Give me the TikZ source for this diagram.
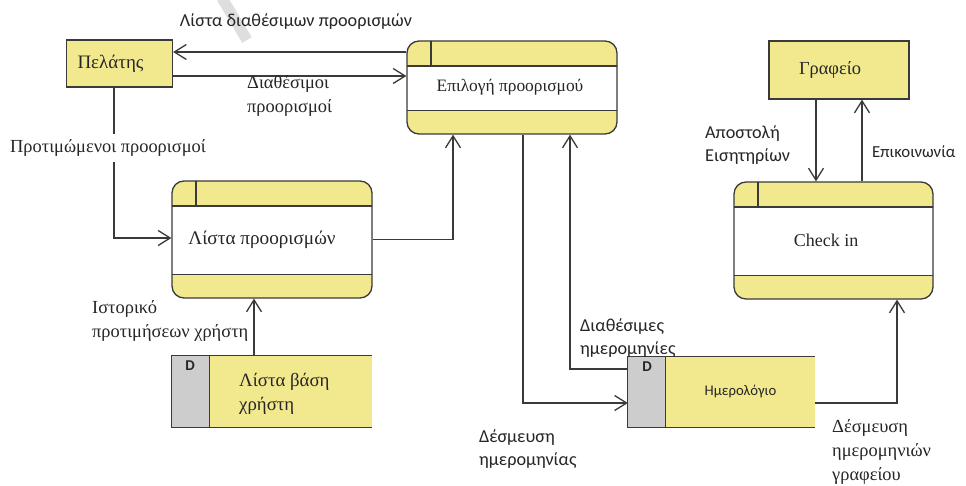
\documentclass[tikz,border=0pt]{standalone}
\usepackage{fontspec}
\setmainfont{Liberation Serif}
\newfontfamily\calfont{Carlito}
\usetikzlibrary{arrows.meta}
\definecolor{yel}{RGB}{242,233,142}
\definecolor{gry}{RGB}{205,205,205}
\definecolor{lc}{RGB}{58,58,58}
\definecolor{wm}{RGB}{222,222,222}
\begin{document}
\begin{tikzpicture}[x=1pt,y=-1pt,
  every node/.style={font=\fontsize{18.4}{24}\selectfont, text=black!85},
  sans/.style={font=\calfont\fontsize{18.2}{23}\selectfont},
  lbl/.style={align=left, inner sep=0pt, anchor=west},
  ln/.style={draw=lc, line width=1.3pt},
  arr/.style={ln, -{Straight Barb[length=12pt,width=15pt,line width=1.3pt]}},
  entity/.style={draw=lc, line width=1.3pt, fill=yel, inner sep=0pt},
  procbox/.style={draw=lc, line width=1.3pt, fill=yel, rounded corners=12pt, inner sep=0pt,
    path picture={
      \filldraw[fill=white, draw=lc, line width=1.3pt, sharp corners]
        ([shift={(-5pt,-25pt)}]path picture bounding box.north west) rectangle
        ([shift={(5pt,23.5pt)}]path picture bounding box.south east);
      \draw[lc, line width=1.3pt, sharp corners]
        ([shift={(24pt,5pt)}]path picture bounding box.north west) --
        ([shift={(24pt,-25pt)}]path picture bounding box.north west);
    }},
  storebox/.style={fill=yel, inner sep=0pt},
  dlbl/.style={font=\calfont\bfseries\fontsize{15}{18}\selectfont, inner sep=0pt}
]
\useasboundingbox (0,0) rectangle (966,486);
\fill[white] (0,0) rectangle (966,486);
% watermark stripe
\draw[wm, line width=11pt] (222,-2) -- (247,40);

% entities
\node[entity, minimum width=106pt, minimum height=47pt, font=\fontsize{19}{24}\selectfont] (pelatis) at (119.5,63.5) {\hspace*{-18pt}Πελάτης};
\node[entity, minimum width=140pt, minimum height=58pt] (grafeio) at (839,70) {\hspace*{-18pt}Γραφείο};

% processes
\node[procbox, minimum width=210pt, minimum height=93pt, font=\fontsize{17.4}{24}\selectfont] (epilogi) at (512,87.5) {\hspace*{-4pt}Επιλογή προορισμού};
\node[procbox, minimum width=200pt, minimum height=117pt, font=\fontsize{19.2}{24}\selectfont] (lista) at (272,239.5) {\hspace*{-20pt}Λίστα προορισμών};
\node[procbox, minimum width=199pt, minimum height=117pt, font=\fontsize{18}{24}\selectfont] (checkin) at (833.5,240.5) {\hspace*{-15pt}Check in};

% data stores
\node[storebox, minimum width=200pt, minimum height=71pt] (vasi) at (272,391.5) {};
\fill[gry] (vasi.north west) rectangle ([xshift=38pt]vasi.south west);
\draw[ln] ([xshift=38pt]vasi.north west) -- ([xshift=38pt]vasi.south west);
\draw[ln] (vasi.north east) -- (vasi.north west) -- (vasi.south west) -- (vasi.south east);
\node[dlbl] (d1) at (190,366) {D};
\node[lbl, font=\fontsize{18.8}{24}\selectfont] (vasitxt) at (239,394) {Λίστα βάση\\χρήστη};

\node[storebox, minimum width=187pt, minimum height=70pt] (imer) at (721.5,392) {};
\fill[gry] (imer.north west) rectangle ([xshift=38pt]imer.south west);
\draw[ln] ([xshift=38pt]imer.north west) -- ([xshift=38pt]imer.south west);
\draw[ln] (imer.north east) -- (imer.north west) -- (imer.south west) -- (imer.south east);
\node[dlbl] (d2) at (647,367) {D};
\node[font=\calfont\fontsize{14.7}{17}\selectfont] (imertxt) at (740.5,392) {Ημερολόγιο};

% connectors
\draw[arr] (epilogi.west |- 0,52) -- (pelatis.east |- 0,52);
\draw[arr] (pelatis.east |- 0,76) -- (epilogi.west |- 0,76);
\draw[arr] (pelatis.south -| 114,0) -- (114,238) -- (lista.west |- 0,238);
\node[fill=white, inner xsep=1pt, inner ysep=6pt] (protim) at (108,148) {Προτιμώμενοι προορισμοί};
\draw[arr] (lista.east) -| ([xshift=-59pt]epilogi.south);
\draw[arr] ([xshift=11pt]epilogi.south) |- ([yshift=-11pt]imer.west);
\draw[arr] ([yshift=23pt]imer.west) -| ([xshift=58pt]epilogi.south);
\draw[arr] ([yshift=-11pt]imer.east) -| ([xshift=63.5pt]checkin.south);
\draw[arr] ([xshift=-18pt]vasi.north) -- ([xshift=-18pt]lista.south);
\draw[arr] ([xshift=-23pt]grafeio.south) -- ([xshift=-23pt]grafeio.south |- checkin.north);
\draw[arr] ([xshift=23pt]grafeio.south |- checkin.north) -- ([xshift=23pt]grafeio.south);

% labels
\node[sans] (l1) at (296,22) {Λίστα διαθέσιμων προορισμών};
\node[lbl] (l2) at (247,96) {Διαθέσιμοι\\προορισμοί};
\node[lbl] (l4) at (92,320.5) {Ιστορικό\\προτιμήσεων χρήστη};
\node[lbl, sans] (l5) at (580,338) {Διαθέσιμες\\ημερομηνίες};
\node[lbl, sans] (l6) at (479,449) {Δέσμευση\\ημερομηνίας};
\node[lbl] (l7) at (832,452) {Δέσμευση\\ημερομηνιών\\γραφείου};
\node[lbl, sans] (l8) at (705,145) {Αποστολή\\Εισητηρίων};
\node[lbl, font=\calfont\fontsize{16.8}{20}\selectfont] (l9) at (872,152) {Επικοινωνία};
\end{tikzpicture}
\end{document}
